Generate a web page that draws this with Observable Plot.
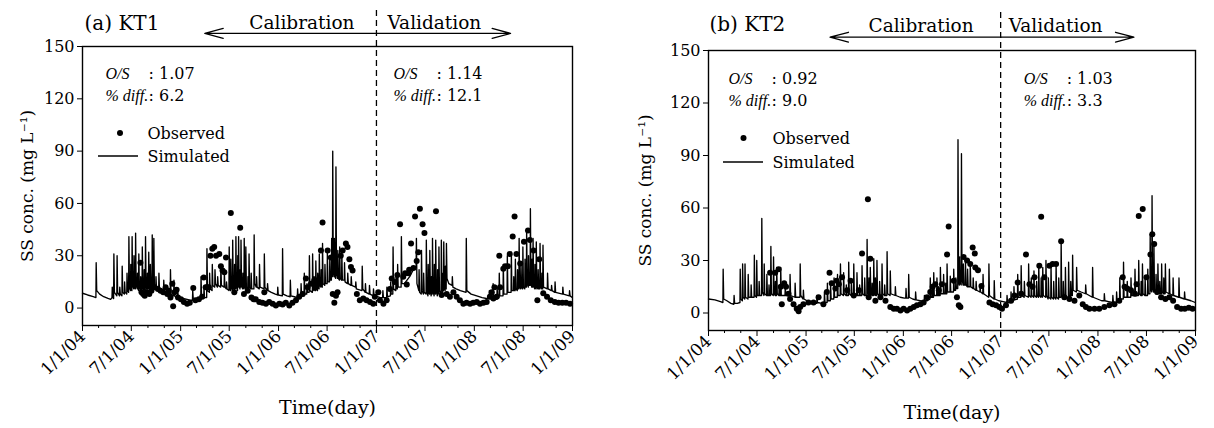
<!DOCTYPE html>
<html><head><meta charset="utf-8">
<script src="https://cdn.jsdelivr.net/npm/d3@7"></script>
<script src="https://cdn.jsdelivr.net/npm/@observablehq/plot@0.6"></script>
<style>
body{margin:0;background:#fff}
#wrap{position:relative;width:1214px;height:428px;overflow:hidden;background:#fff}
#wrap > svg{position:absolute;top:0}
</style>
</head><body><div id="wrap"></div>
<script>
// ---------- data ----------
const yTicks = [0, 30, 60, 90, 120, 150];
const xMajorDates = ["2004-01-01","2004-07-01","2005-01-01","2005-07-01","2006-01-01","2006-07-01","2007-01-01","2007-07-01","2008-01-01","2008-07-01","2009-01-01"];
const xMajorLabels = ["1/1/04","7/1/04","1/1/05","7/1/05","1/1/06","7/1/06","1/1/07","7/1/07","1/1/08","7/1/08","1/1/09"];
const xMinorDates = ["2004-03-01","2004-05-01","2004-09-01","2004-11-01","2005-03-01","2005-05-01","2005-09-01","2005-11-01","2006-03-01","2006-05-01","2006-09-01","2006-11-01","2007-03-01","2007-05-01","2007-09-01","2007-11-01","2008-03-01","2008-05-01","2008-09-01","2008-11-01"];
const splitDate = "2007-01-01";
const arrowSpan = ["2005-04-01", "2008-05-15"];
const periodLabels = ["Calibration", "Validation"];
const panelTitles = ["(a) KT1", "(b) KT2"];
const statLabels = ["O/S", "% diff."];
const statsKT1 = [["1.07", "6.2"], ["1.14", "12.1"]];   // [calibration, validation]
const statsKT2 = [["0.92", "9.0"], ["1.03", "3.3"]];
const seriesNames = ["Observed", "Simulated"];

const obsKT1 = [
["2004-08-04",26],["2004-08-08",9],["2004-08-14",8],["2004-08-20",7],["2004-08-28",9],["2004-09-06",8],["2004-09-14",10],["2004-09-26",12],["2004-10-08",11],["2004-10-18",10],["2004-10-28",9],["2004-11-06",12],["2004-11-12",8],["2004-11-18",10],["2004-11-24",6],["2004-12-01",14],["2004-12-04",1],["2004-12-09",9],["2004-12-17",10.5],["2004-12-22",6],
["2005-01-02",5],["2005-01-13",3.5],["2005-01-25",2.5],["2005-02-04",3],["2005-02-17",11.5],["2005-02-25",4.5],["2005-03-10",5],["2005-03-22",6.5],["2005-03-28",17.5],["2005-04-04",12],["2005-04-10",12],["2005-04-16",12],["2005-04-22",30],["2005-04-29",34],["2005-05-06",35],["2005-05-13",30],["2005-05-25",31],["2005-05-31",24],["2005-06-06",21.5],["2005-06-13",20.5],["2005-06-19",29],["2005-07-07",54.5],["2005-07-20",9],["2005-08-11",46],["2005-08-25",8],["2005-09-08",10],["2005-09-22",6],["2005-09-30",5],["2005-10-08",5],["2005-10-21",3.5],["2005-11-02",3],["2005-11-09",9],["2005-11-15",2.5],["2005-11-27",3.5],["2005-12-10",2.5],["2005-12-22",1.5],
["2006-01-04",2.5],["2006-01-16",2],["2006-01-28",3],["2006-02-10",1.5],["2006-02-22",3],["2006-03-07",4.5],["2006-03-19",6.5],["2006-04-01",8],["2006-04-13",17],["2006-04-19",12],["2006-05-02",14],["2006-05-14",16],["2006-05-27",16],["2006-06-08",33],["2006-06-14",49],["2006-07-03",33],["2006-07-15",29],["2006-07-22",8],["2006-07-28",3],["2006-08-03",7],["2006-08-09",9],["2006-08-21",30],["2006-08-28",33],["2006-09-09",37],["2006-09-15",35],["2006-09-22",28],["2006-09-28",23.5],["2006-10-04",21.5],["2006-10-20",8],["2006-10-31",4.5],["2006-11-13",5.5],["2006-11-25",4.5],["2006-12-08",3.5],["2006-12-20",2.5],["2006-12-26",6.5],
["2007-01-08",9],["2007-01-14",4.5],["2007-01-27",2.5],["2007-02-08",4.5],["2007-02-20",11],["2007-02-27",17],["2007-03-10",15],["2007-03-20",19],["2007-03-30",48],["2007-04-11",18],["2007-04-18",20],["2007-04-24",13.5],["2007-04-30",20],["2007-05-03",22],["2007-05-10",37],["2007-05-19",23],["2007-05-25",52.5],["2007-05-31",27],["2007-06-06",32],["2007-06-12",57],["2007-06-22",48],["2007-06-29",43],["2007-08-11",55.5],["2007-09-01",7.5],["2007-09-20",8],["2007-10-02",6.5],["2007-10-15",9],["2007-10-27",6.5],["2007-11-08",4.5],["2007-11-21",2.5],["2007-12-03",3],["2007-12-16",2.5],["2007-12-28",3],
["2008-01-10",3.5],["2008-01-22",2.5],["2008-02-04",3],["2008-02-16",3.5],["2008-02-28",6.5],["2008-03-06",9],["2008-03-12",5.5],["2008-03-16",12],["2008-03-24",6.5],["2008-04-06",12],["2008-04-03",30],["2008-04-18",22.5],["2008-04-25",24],["2008-05-05",24],["2008-05-12",31],["2008-05-23",41],["2008-05-30",52.5],["2008-06-06",31],["2008-06-20",25.5],["2008-07-04",38],["2008-07-19",44.5],["2008-07-26",39],["2008-08-09",33],["2008-08-23",4.5],["2008-08-30",28],["2008-09-14",8.5],["2008-09-28",6.5],["2008-10-12",4.5],["2008-10-27",3.5],["2008-11-10",3],["2008-11-24",3],["2008-12-08",3],["2008-12-23",2.5]
];

const simKT1 = [
["2004-01-01",8.5],["2004-01-20",7.5],["2004-02-10",6.5],["2004-02-20",6],["2004-02-21",26],["2004-02-23",10],["2004-03-05",8],["2004-03-20",6.5],["2004-04-05",5.5],["2004-04-15",5],["2004-04-20",6],["2004-04-21",12],["2004-04-23",6],
["2004-04-26",5.5],["2004-04-27",31],["2004-04-29",9],["2004-05-08",7],["2004-05-09",30],["2004-05-11",9],["2004-05-18",7],["2004-05-19",12],["2004-05-21",8],["2004-05-27",7],["2004-05-28",24],["2004-05-30",9],["2004-06-05",8],["2004-06-06",15],["2004-06-08",9],["2004-06-14",8],["2004-06-15",20],["2004-06-17",10],
["2004-06-21",9],["2004-06-22",41],["2004-06-24",12],["2004-06-28",10],["2004-06-29",25],["2004-07-01",11],["2004-07-03",10],["2004-07-04",41],["2004-07-06",13],["2004-07-10",11],["2004-07-11",30],["2004-07-13",12],["2004-07-16",11],["2004-07-17",43],["2004-07-19",13],["2004-07-23",11],["2004-07-24",20],["2004-07-26",12],
["2004-07-28",10],["2004-07-29",31],["2004-07-31",12],["2004-08-04",10],["2004-08-05",18],["2004-08-07",11],["2004-08-10",10],["2004-08-11",35],["2004-08-13",12],["2004-08-17",10],["2004-08-18",22],["2004-08-20",11],["2004-08-22",10],["2004-08-23",41],["2004-08-25",13],["2004-08-29",10],["2004-08-30",20],["2004-09-01",12],
["2004-09-03",11],["2004-09-04",32],["2004-09-06",12],["2004-09-09",11],["2004-09-10",25],["2004-09-12",12],["2004-09-16",11],["2004-09-17",42],["2004-09-19",14],["2004-09-22",11],["2004-09-23",40],["2004-09-25",13],["2004-09-30",11],["2004-10-01",18],["2004-10-03",11],
["2004-10-11",10],["2004-10-12",20],["2004-10-14",10],["2004-10-29",8],["2004-10-30",16],["2004-11-01",9],["2004-11-10",8],["2004-11-11",12],["2004-11-13",8],["2004-11-23",7],["2004-11-24",22],["2004-11-26",8],["2004-12-06",7],["2004-12-07",16],["2004-12-09",7],["2004-12-20",6],["2004-12-21",11],["2004-12-23",6],
["2005-01-10",5.5],["2005-01-25",5],["2005-02-05",4.5],["2005-02-14",4.5],["2005-02-15",10],["2005-02-17",5],["2005-03-01",4.5],["2005-03-17",5],["2005-03-18",18],["2005-03-20",6],["2005-03-28",5.5],["2005-03-29",12],["2005-03-31",6],
["2005-04-08",6],["2005-04-09",34],["2005-04-11",10],["2005-04-18",9],["2005-04-19",20],["2005-04-21",11],["2005-04-28",10],["2005-04-29",25],["2005-05-01",13],["2005-05-08",12],["2005-05-09",22],["2005-05-11",14],["2005-05-18",12],["2005-05-19",18],["2005-05-21",13],
["2005-05-30",12],["2005-05-31",24],["2005-06-02",13],["2005-06-12",12],["2005-06-13",20],["2005-06-15",12],["2005-06-20",11],["2005-06-21",15],["2005-06-23",11],["2005-06-30",10],["2005-07-01",35],["2005-07-03",12],["2005-07-06",10],["2005-07-07",28],["2005-07-09",12],
["2005-07-13",10],["2005-07-14",39],["2005-07-16",12],["2005-07-20",10],["2005-07-21",25],["2005-07-23",12],["2005-07-25",11],["2005-07-26",41],["2005-07-28",13],["2005-08-01",10],["2005-08-02",30],["2005-08-04",12],["2005-08-05",41],["2005-08-07",13],
["2005-08-10",11],["2005-08-11",22],["2005-08-13",12],["2005-08-14",39],["2005-08-16",13],["2005-08-20",11],["2005-08-21",20],["2005-08-23",12],["2005-08-25",11],["2005-08-26",40],["2005-08-28",13],["2005-08-31",11],["2005-09-01",35],["2005-09-03",12],
["2005-09-08",11],["2005-09-09",18],["2005-09-11",11],["2005-09-12",11],["2005-09-13",31],["2005-09-15",12],["2005-09-20",11],["2005-09-21",20],["2005-09-23",11],["2005-10-01",11],["2005-10-02",42],["2005-10-04",14],["2005-10-10",12],["2005-10-11",18],["2005-10-13",12],
["2005-10-21",11],["2005-10-22",25],["2005-10-24",12],["2005-11-08",11],["2005-11-09",31],["2005-11-11",12],["2005-11-20",10],["2005-11-21",14],["2005-11-23",10],["2005-12-05",9],["2005-12-20",8],["2005-12-28",7.5],["2005-12-29",12],["2005-12-31",7.5],
["2006-01-15",7],["2006-01-16",34],["2006-01-18",8],["2006-02-01",7],["2006-02-13",6.5],["2006-02-14",16],["2006-02-16",7],["2006-03-01",6.5],["2006-03-12",6],["2006-03-13",11],["2006-03-15",6],["2006-03-25",6],["2006-03-26",14],["2006-03-28",7],
["2006-04-06",7],["2006-04-07",20],["2006-04-09",8],["2006-04-16",8],["2006-04-17",14],["2006-04-19",9],["2006-04-25",9],["2006-04-26",30],["2006-04-28",10],["2006-05-07",9],["2006-05-08",31],["2006-05-10",11],["2006-05-13",10],["2006-05-14",18],["2006-05-16",11],
["2006-05-19",10],["2006-05-20",27],["2006-05-22",11],["2006-05-26",10],["2006-05-27",20],["2006-05-29",12],["2006-06-01",11],["2006-06-02",31],["2006-06-04",13],["2006-06-08",12],["2006-06-09",22],["2006-06-11",13],["2006-06-13",12],["2006-06-14",37],["2006-06-16",14],
["2006-06-22",13],["2006-06-23",25],["2006-06-25",14],["2006-07-01",14],["2006-07-02",32],["2006-07-04",15],["2006-07-10",15],["2006-07-11",28],["2006-07-13",16],["2006-07-17",16],["2006-07-18",40],["2006-07-20",18],["2006-07-21",18],["2006-07-22",90],["2006-07-24",22],
["2006-07-27",18],["2006-07-28",40],["2006-07-30",18],["2006-08-02",17],["2006-08-03",81],["2006-08-05",21],["2006-08-09",17],["2006-08-10",33],["2006-08-12",17],["2006-08-16",16],["2006-08-17",35],["2006-08-19",17],["2006-08-24",16],["2006-08-25",31],["2006-08-27",16],
["2006-09-03",16],["2006-09-04",26],["2006-09-06",15],["2006-09-15",14],["2006-09-16",20],["2006-09-18",14],["2006-09-28",13],["2006-09-29",18],["2006-10-01",13],["2006-10-15",12],["2006-10-16",15],["2006-10-18",11],["2006-11-08",10],["2006-11-09",24],["2006-11-11",11],
["2006-11-20",9],["2006-11-21",14],["2006-11-23",9],["2006-12-05",8],["2006-12-06",13],["2006-12-08",8],["2006-12-20",7],["2006-12-21",11],["2006-12-23",7],
["2007-01-05",6.5],["2007-01-15",6],["2007-01-24",6],["2007-01-25",10],["2007-01-27",6],["2007-02-08",6],["2007-02-09",12],["2007-02-11",6.5],["2007-02-22",7],["2007-02-23",15],["2007-02-25",8],
["2007-03-03",8],["2007-03-04",35],["2007-03-06",11],["2007-03-14",10],["2007-03-15",18],["2007-03-17",11],["2007-03-20",11],["2007-03-21",25],["2007-03-23",12],["2007-04-03",12],["2007-04-04",41],["2007-04-06",14],
["2007-04-15",14],["2007-04-25",16],["2007-05-05",18],["2007-05-15",21],["2007-05-25",23],["2007-05-29",24],["2007-05-30",40],["2007-06-01",14],
["2007-06-08",10],["2007-06-09",22],["2007-06-11",9],["2007-06-17",8],["2007-06-18",33],["2007-06-20",10],["2007-06-25",8],["2007-06-26",20],["2007-06-28",9],["2007-07-05",8],["2007-07-06",39],["2007-07-08",10],["2007-07-12",7],["2007-07-13",25],["2007-07-15",9],
["2007-07-18",8],["2007-07-19",33],["2007-07-21",10],["2007-07-24",7],["2007-07-25",18],["2007-07-27",9],["2007-07-28",8],["2007-07-29",40],["2007-07-31",10],["2007-08-04",7],["2007-08-05",25],["2007-08-07",9],["2007-08-09",8],["2007-08-10",39],["2007-08-12",10],
["2007-08-16",7],["2007-08-17",22],["2007-08-19",9],["2007-08-21",8],["2007-08-22",35],["2007-08-24",10],["2007-08-30",8],["2007-08-31",39],["2007-09-02",11],["2007-09-05",9],["2007-09-06",20],["2007-09-08",10],["2007-09-09",38],["2007-09-11",12],
["2007-09-14",10],["2007-09-15",24],["2007-09-17",11],["2007-09-18",11],["2007-09-19",37],["2007-09-21",17],["2007-09-28",14],["2007-10-10",13],["2007-10-11",18],["2007-10-13",12],["2007-10-25",11],["2007-11-10",10],
["2007-12-01",9],["2007-12-02",40],["2007-12-04",10],["2007-12-20",8],["2008-01-10",7],["2008-01-30",6],
["2008-02-15",5.5],["2008-02-25",5.5],["2008-02-26",10],["2008-02-28",5.5],["2008-03-10",5],["2008-03-11",14],["2008-03-13",5.5],["2008-03-25",5],["2008-03-26",12],["2008-03-28",5.5],
["2008-04-02",6],["2008-04-03",20],["2008-04-05",7],["2008-04-17",7],["2008-04-18",25],["2008-04-20",8],["2008-05-02",8],["2008-05-03",30],["2008-05-05",9],["2008-05-17",9],["2008-05-18",32],["2008-05-20",10],["2008-05-26",10],["2008-05-27",18],["2008-05-29",10],
["2008-06-01",10],["2008-06-02",28],["2008-06-04",11],["2008-06-09",10],["2008-06-10",22],["2008-06-12",11],["2008-06-15",11],["2008-06-16",40],["2008-06-18",12],["2008-06-22",11],["2008-06-23",25],["2008-06-25",12],["2008-06-29",11],["2008-06-30",35],["2008-07-02",12],
["2008-07-07",11],["2008-07-08",28],["2008-07-10",12],["2008-07-13",12],["2008-07-14",45],["2008-07-16",14],["2008-07-20",12],["2008-07-21",30],["2008-07-23",13],["2008-07-27",13],["2008-07-28",57],["2008-07-30",15],["2008-08-02",12],["2008-08-03",28],["2008-08-05",12],
["2008-08-06",12],["2008-08-07",40],["2008-08-09",13],["2008-08-13",11],["2008-08-14",25],["2008-08-16",12],["2008-08-18",11],["2008-08-19",38],["2008-08-21",12],["2008-08-25",11],["2008-08-26",22],["2008-08-28",11],["2008-09-01",11],["2008-09-02",37],["2008-09-04",12],
["2008-09-08",11],["2008-09-09",20],["2008-09-11",11],["2008-09-12",11],["2008-09-13",36],["2008-09-15",12],["2008-09-29",11],["2008-09-30",20],["2008-10-02",11],["2008-10-14",10],["2008-10-15",13],["2008-10-17",10],["2008-10-27",9],["2008-10-28",15],["2008-10-30",9],
["2008-11-25",8],["2008-11-26",12],["2008-11-28",8],["2008-12-20",7],["2008-12-21",10],["2008-12-23",7],["2008-12-31",6]
];

const obsKT2 = [
["2004-08-19",23],["2004-09-07",23],["2004-09-20",25],["2004-09-28",15],["2004-10-02",5],["2004-10-11",17],["2004-10-18",15],["2004-10-27",11],["2004-11-02",8],["2004-11-15",5],["2004-11-27",2.5],["2004-12-04",1],["2004-12-10",3.5],["2004-12-22",5],
["2005-01-10",6],["2005-01-29",6],["2005-02-17",9],["2005-03-07",5],["2005-03-20",12],["2005-03-30",23],["2005-04-07",17],["2005-04-21",14],["2005-04-26",18.5],["2005-05-04",16.5],["2005-05-16",20.5],["2005-06-04",13],["2005-06-17",18.5],["2005-06-29",10],["2005-07-18",13],["2005-07-30",34],["2005-08-21",65],["2005-08-24",9],["2005-08-30",31],["2005-09-18",7],["2005-10-07",9],["2005-10-26",7],["2005-11-13",3.5],["2005-11-26",2.5],["2005-12-08",2.5],["2005-12-21",1.5],
["2006-01-02",2.5],["2006-01-15",1.5],["2006-01-27",2.5],["2006-02-09",3.5],["2006-02-21",4.5],["2006-03-06",5],["2006-03-18",6],["2006-03-31",9],["2006-04-12",12],["2006-04-21",15],["2006-05-01",16.5],["2006-05-14",13],["2006-05-26",16.5],["2006-06-14",33.5],["2006-06-20",49.5],["2006-07-09",18.5],["2006-07-21",9],["2006-07-28",4.5],["2006-08-03",3.5],["2006-08-15",32],["2006-08-28",30],["2006-09-09",28],["2006-09-18",37.5],["2006-09-26",34],["2006-09-28",26],["2006-10-08",24.5],["2006-10-21",15.5],["2006-11-20",6],["2006-12-02",5],["2006-12-15",4.5],["2006-12-27",3.5],
["2007-01-06",2.5],["2007-01-21",4.5],["2007-02-09",7],["2007-02-22",10],["2007-03-06",17.5],["2007-03-19",11],["2007-04-06",33.5],["2007-04-19",16.5],["2007-05-01",15],["2007-05-08",20.5],["2007-05-26",27],["2007-06-02",55],["2007-06-14",20.5],["2007-07-03",27],["2007-07-15",28],["2007-07-28",28],["2007-08-16",41],["2007-08-28",9],["2007-09-16",8],["2007-10-05",7],["2007-10-23",10],["2007-11-05",5],["2007-11-17",3.5],["2007-11-30",2.5],["2007-12-19",2.5],
["2008-01-06",2.5],["2008-01-25",3.5],["2008-02-13",4.5],["2008-03-03",5],["2008-03-21",7],["2008-04-03",20.5],["2008-04-10",15],["2008-04-20",14],["2008-05-04",13],["2008-05-19",11],["2008-05-25",16.5],["2008-06-02",55.5],["2008-06-17",59.5],["2008-07-01",20.5],["2008-07-16",33.5],["2008-07-23",45],["2008-07-30",39.5],["2008-08-10",12],["2008-08-25",9],["2008-09-10",8],["2008-09-25",9],["2008-10-09",7],["2008-10-24",3.5],["2008-11-08",2.5],["2008-11-22",2.5],["2008-12-07",3],["2008-12-21",2.5]
];

const simKT2 = [
["2004-01-01",8],["2004-01-25",7.5],["2004-02-15",6.5],["2004-02-24",6],["2004-02-25",25],["2004-02-27",8],["2004-03-10",7],["2004-03-25",5.5],["2004-04-05",5],["2004-04-06",10],["2004-04-08",5.5],["2004-04-18",5.5],
["2004-04-28",6],["2004-04-29",25],["2004-05-01",8],["2004-05-07",7],["2004-05-08",28],["2004-05-10",9],["2004-05-16",8],["2004-05-17",28],["2004-05-19",9],["2004-05-28",8],["2004-05-29",22],["2004-05-31",9],["2004-06-08",9],["2004-06-09",16],["2004-06-11",9],
["2004-06-20",9],["2004-06-21",33],["2004-06-23",10],["2004-06-29",9],["2004-06-30",30],["2004-07-02",10],["2004-07-08",10],["2004-07-09",18],["2004-07-11",10],["2004-07-18",10],["2004-07-19",54],["2004-07-21",12],["2004-07-27",10],["2004-07-28",28],["2004-07-30",11],
["2004-08-06",10],["2004-08-07",22],["2004-08-09",10],["2004-08-14",10],["2004-08-15",16],["2004-08-17",10],["2004-08-21",10],["2004-08-22",38],["2004-08-24",11],["2004-08-31",10],["2004-09-01",32],["2004-09-03",11],["2004-09-07",10],["2004-09-08",18],["2004-09-10",10],
["2004-09-12",10],["2004-09-13",26],["2004-09-15",11],["2004-09-21",10],["2004-09-22",15],["2004-09-24",10],["2004-09-27",10],["2004-09-28",26],["2004-09-30",10],["2004-10-14",10],["2004-10-15",15],["2004-10-17",10],["2004-11-01",10],["2004-11-02",22],["2004-11-04",10],
["2004-11-20",9],["2004-11-21",17],["2004-11-23",9],["2004-12-09",9],["2004-12-10",28],["2004-12-12",10],["2004-12-21",8],["2004-12-22",13],["2004-12-24",8],
["2005-01-10",6.5],["2005-01-25",6],["2005-02-10",5.5],["2005-02-11",10],["2005-02-13",6],["2005-03-01",5.5],["2005-03-10",5.5],["2005-03-11",12],["2005-03-13",6],["2005-03-21",6],["2005-03-22",17],["2005-03-24",7],["2005-04-02",7],["2005-04-03",17],["2005-04-05",8],
["2005-04-15",8],["2005-04-16",20],["2005-04-18",9],["2005-04-28",9],["2005-04-29",22],["2005-05-01",10],["2005-05-09",10],["2005-05-10",28],["2005-05-12",11],["2005-05-21",10],["2005-05-22",23],["2005-05-24",11],["2005-05-31",10],["2005-06-01",16],["2005-06-03",10],
["2005-06-09",10],["2005-06-10",29],["2005-06-12",11],["2005-06-19",10],["2005-06-20",18],["2005-06-22",10],["2005-06-28",10],["2005-06-29",28],["2005-07-01",11],["2005-07-10",10],["2005-07-11",23],["2005-07-13",10],["2005-07-20",10],["2005-07-21",16],["2005-07-23",10],
["2005-07-29",10],["2005-07-30",27],["2005-08-01",11],["2005-08-08",10],["2005-08-09",20],["2005-08-11",10],["2005-08-17",10],["2005-08-18",42],["2005-08-20",12],["2005-08-24",10],["2005-08-25",20],["2005-08-27",10],["2005-08-29",10],["2005-08-30",26],["2005-09-01",11],
["2005-09-05",10],["2005-09-06",17],["2005-09-08",10],["2005-09-11",10],["2005-09-12",31],["2005-09-14",11],["2005-09-17",10],["2005-09-18",20],["2005-09-20",10],["2005-09-23",10],["2005-09-24",30],["2005-09-26",11],["2005-10-03",10],["2005-10-04",18],["2005-10-06",10],
["2005-10-12",10],["2005-10-13",28],["2005-10-15",11],["2005-10-22",10],["2005-10-23",16],["2005-10-25",10],["2005-10-31",10],["2005-11-01",35],["2005-11-03",11],["2005-11-12",10],["2005-11-13",24],["2005-11-15",11],["2005-12-01",10],["2005-12-02",15],["2005-12-04",10],
["2005-12-20",9],["2006-01-05",8.5],["2006-01-10",8.5],["2006-01-11",14],["2006-01-13",8.5],
["2006-01-20",8.5],["2006-01-21",22],["2006-01-23",9],["2006-02-05",8],["2006-02-15",7.5],["2006-02-16",12],["2006-02-18",7.5],["2006-03-05",7],["2006-03-20",6.5],["2006-03-21",10],["2006-03-23",7],["2006-04-01",7],
["2006-04-11",8],["2006-04-12",20],["2006-04-14",9],["2006-04-19",9],["2006-04-20",14],["2006-04-22",9],["2006-04-24",9],["2006-04-25",23],["2006-04-27",10],["2006-05-06",10],["2006-05-07",20],["2006-05-09",10],["2006-05-12",10],["2006-05-13",15],["2006-05-15",10],
["2006-05-19",10],["2006-05-20",26],["2006-05-22",11],["2006-05-31",11],["2006-06-01",22],["2006-06-03",11],["2006-06-08",11],["2006-06-09",17],["2006-06-11",11],["2006-06-13",11],["2006-06-14",28],["2006-06-16",12],["2006-06-25",12],["2006-06-26",21],["2006-06-28",12],
["2006-07-08",12],["2006-07-09",25],["2006-07-11",13],["2006-07-16",13],["2006-07-17",20],["2006-07-19",14],["2006-07-24",14],["2006-07-25",99],["2006-07-27",18],["2006-07-30",16],["2006-07-31",32],["2006-08-02",17],["2006-08-06",16],["2006-08-07",91],["2006-08-09",20],
["2006-08-13",16],["2006-08-14",28],["2006-08-16",16],["2006-08-21",16],["2006-08-22",30],["2006-08-24",16],["2006-08-29",15],["2006-08-30",25],["2006-09-01",15],["2006-09-08",15],["2006-09-09",28],["2006-09-11",15],["2006-09-19",14],["2006-09-20",20],["2006-09-22",14],
["2006-09-30",13],["2006-10-01",18],["2006-10-03",13],["2006-10-15",12],["2006-10-16",15],["2006-10-18",12],["2006-10-26",11],["2006-10-27",22],["2006-10-29",11],["2006-11-17",9],["2006-11-18",28],["2006-11-20",10],["2006-12-07",8],["2006-12-08",18.5],["2006-12-10",8],
["2006-12-25",7],
["2007-01-10",6.5],["2007-01-24",6],["2007-01-25",10],["2007-01-27",6],["2007-02-08",6],["2007-02-09",12],["2007-02-11",6.5],["2007-02-19",7],["2007-02-20",15],["2007-02-22",7.5],["2007-03-05",8],["2007-03-06",22],["2007-03-08",9],
["2007-03-18",9],["2007-03-19",27],["2007-03-21",10],["2007-03-30",9],["2007-03-31",18],["2007-04-02",10],["2007-04-15",9],["2007-04-16",28],["2007-04-18",10],["2007-04-25",9],["2007-04-26",20],["2007-04-28",10],["2007-05-05",9],["2007-05-06",24],["2007-05-08",10],
["2007-05-15",9],["2007-05-16",18],["2007-05-18",10],["2007-05-23",9],["2007-05-24",28],["2007-05-26",10],["2007-06-01",9],["2007-06-02",20],["2007-06-04",10],["2007-06-07",9],["2007-06-08",26],["2007-06-10",10],["2007-06-19",9],["2007-06-20",30],["2007-06-22",10],
["2007-06-28",8],["2007-06-29",20],["2007-07-01",9],["2007-07-08",8],["2007-07-09",27],["2007-07-11",9],["2007-07-18",8],["2007-07-19",18],["2007-07-21",9],["2007-07-27",8],["2007-07-28",28],["2007-07-30",9],["2007-08-06",8],["2007-08-07",20],["2007-08-09",9],
["2007-08-15",9],["2007-08-16",41],["2007-08-18",10],["2007-08-23",8],["2007-08-24",18],["2007-08-26",9],["2007-08-31",8],["2007-09-01",26],["2007-09-03",9],["2007-09-12",9],["2007-09-13",29],["2007-09-15",10],["2007-09-20",9],["2007-09-21",18],["2007-09-23",10],
["2007-09-27",10],["2007-09-28",33],["2007-09-30",13],["2007-10-12",12],["2007-10-13",26],["2007-10-15",13],["2007-10-30",12],["2007-11-15",11],["2007-11-16",16],["2007-11-18",11],["2007-12-11",9],["2007-12-12",26],["2007-12-14",9],
["2007-12-30",8],["2008-01-15",7],["2008-01-24",7],["2008-01-25",11],["2008-01-27",7],
["2008-02-10",6.5],["2008-02-25",6],["2008-02-26",10],["2008-02-28",6],["2008-03-10",6],["2008-03-11",12],["2008-03-13",6.5],["2008-03-22",7],["2008-03-23",20],["2008-03-25",8],
["2008-04-05",8],["2008-04-06",29],["2008-04-08",9],["2008-04-19",9],["2008-04-20",18],["2008-04-22",9],["2008-05-03",9],["2008-05-04",20],["2008-05-06",10],["2008-05-18",10],["2008-05-19",25],["2008-05-21",10],["2008-06-01",10],["2008-06-02",30],["2008-06-04",11],
["2008-06-10",10],["2008-06-11",18],["2008-06-13",10],["2008-06-15",10],["2008-06-16",28],["2008-06-18",11],["2008-06-25",10],["2008-06-26",20],["2008-06-28",10],["2008-07-05",10],["2008-07-06",25],["2008-07-08",11],["2008-07-14",11],["2008-07-15",45],["2008-07-17",13],
["2008-07-21",12],["2008-07-22",67],["2008-07-24",15],["2008-07-28",12],["2008-07-29",40],["2008-07-31",13],["2008-08-05",11],["2008-08-06",22],["2008-08-08",11],["2008-08-12",11],["2008-08-13",28],["2008-08-15",12],["2008-08-19",11],["2008-08-20",18],["2008-08-22",11],
["2008-08-26",11],["2008-08-27",28],["2008-08-29",12],["2008-09-03",11],["2008-09-04",20],["2008-09-06",11],["2008-09-09",11],["2008-09-10",28],["2008-09-12",12],["2008-09-24",11],["2008-09-25",25],["2008-09-27",11],["2008-10-08",10],["2008-10-09",20],["2008-10-11",10],
["2008-10-30",9],["2008-10-31",20],["2008-11-02",9],["2008-11-20",8],["2008-11-21",12],["2008-11-23",8],["2008-12-15",7],["2008-12-31",6]
];

// ---------- drawing ----------
const D = s => new Date(s);
const SERIF = "'DejaVu Serif', serif";
const ITAL = "'Liberation Serif', 'DejaVu Serif', serif";

function panel(cfg) {
  const sim = cfg.sim.map(([d, v]) => ({date: D(d), v})).sort((a, b) => a.date - b.date);
  const obs = cfg.obs.map(([d, v]) => ({date: D(d), v}));
  const split = [D(splitDate)];
  const L = cfg.legend;
  const legendSwatches = (index, scales, values, dim) => {
    const g = d3.create("svg:g");
    const x0 = dim.marginLeft, y0 = dim.marginTop;
    g.append("circle").attr("cx", x0 + L.dot[0]).attr("cy", y0 + L.dot[1]).attr("r", 3).attr("fill", "black");
    g.append("line").attr("x1", x0 + L.line[0]).attr("x2", x0 + L.line[1])
      .attr("y1", y0 + L.line[2]).attr("y2", y0 + L.line[2]).attr("stroke", "black").attr("stroke-width", 1.4);
    return g.node();
  };
  const statText = (anchorOpts, dx, dy, label, value) => [
    Plot.text([label], {...anchorOpts, text: () => label, dx, dy, textAnchor: "start", lineAnchor: "middle", fontStyle: "italic", fontFamily: ITAL, fontSize: 16}),
    Plot.text([value], {...anchorOpts, text: () => ": " + value, dx: dx + 43, dy, textAnchor: "start", lineAnchor: "middle", fontSize: 16})
  ];
  const leftAnchor = {frameAnchor: "top-left"};
  const splitAnchor = {x: () => split[0], frameAnchor: "top"};
  const plot = Plot.plot({
    width: cfg.width, height: 428,
    marginLeft: cfg.m[0], marginRight: cfg.m[1], marginTop: cfg.m[2], marginBottom: cfg.m[3],
    style: {fontFamily: SERIF, color: "black", background: "transparent", overflow: "visible"},
    x: {type: "utc", domain: [D(xMajorDates[0]), D(xMajorDates[xMajorDates.length - 1])]},
    y: {domain: [-10, 150]},
    marks: [
      Plot.axisY({ticks: yTicks, tickSize: 5, tickPadding: 3, label: null, fontSize: 16, tickFormat: d => String(d)}),
      Plot.axisX({ticks: xMajorDates.map(D), tickSize: 6, tickPadding: 2, tickRotate: -45, label: null, fontSize: 17,
        tickFormat: d => xMajorLabels[xMajorDates.map(D).findIndex(t => +t === +d)]}),
      Plot.axisX({ticks: xMinorDates.map(D), tickSize: 3, label: null, tickFormat: () => ""}),
      Plot.line(sim, {x: "date", y: "v", stroke: "black", strokeWidth: 1.35}),
      Plot.dot(obs, {x: "date", y: "v", r: 3, fill: "black", stroke: null}),
      Plot.frame({stroke: "black", strokeWidth: 1.4}),
      Plot.ruleX(split, {x: d => d, insetTop: cfg.dash[0], insetBottom: cfg.dash[1], stroke: "black", strokeWidth: 1.3, strokeDasharray: "6,4"}),
      Plot.arrow([arrowSpan[0], arrowSpan[1]], {x1: () => split[0], x2: d => D(d), y1: cfg.arrowY, y2: cfg.arrowY,
        stroke: "black", strokeWidth: 1.3, headLength: 22, headAngle: 30}),
      Plot.text([cfg.title], {frameAnchor: "top-left", dx: cfg.titlePos[0], dy: cfg.titlePos[1], textAnchor: "start", lineAnchor: "bottom", fontSize: 20}),
      Plot.text([periodLabels[0]], {...splitAnchor, text: () => periodLabels[0], dx: cfg.per[0], dy: cfg.per[2], textAnchor: "end", lineAnchor: "bottom", fontSize: 18.5}),
      Plot.text([periodLabels[1]], {...splitAnchor, text: () => periodLabels[1], dx: cfg.per[1], dy: cfg.per[2], textAnchor: "start", lineAnchor: "bottom", fontSize: 18.5}),
      ...statText(leftAnchor, cfg.stat[0], cfg.stat[2], statLabels[0], cfg.stats[0][0]),
      ...statText(leftAnchor, cfg.stat[0], cfg.stat[3], statLabels[1], cfg.stats[0][1]),
      ...statText(splitAnchor, cfg.stat[1], cfg.stat[2], statLabels[0], cfg.stats[1][0]),
      ...statText(splitAnchor, cfg.stat[1], cfg.stat[3], statLabels[1], cfg.stats[1][1]),
      legendSwatches,
      Plot.text([seriesNames[0]], {frameAnchor: "top-left", dx: L.text[0], dy: L.dot[1], textAnchor: "start", lineAnchor: "middle", fontSize: 16}),
      Plot.text([seriesNames[1]], {frameAnchor: "top-left", dx: L.text[0], dy: L.line[2], textAnchor: "start", lineAnchor: "middle", fontSize: 16}),
      Plot.text(["SS conc. (mg L\u207B\u00B9)"], {frameAnchor: "left", dx: cfg.yLabelDx, rotate: -90, textAnchor: "middle", lineAnchor: "middle", fontSize: 17}),
      Plot.text(["Time(day)"], {frameAnchor: "bottom", dy: 82, textAnchor: "middle", lineAnchor: "middle", fontSize: 19})
    ]
  });
  plot.style.left = cfg.left + "px";
  return plot;
}

const wrap = document.getElementById("wrap");
wrap.append(panel({
  sim: simKT1, obs: obsKT1, title: panelTitles[0], stats: statsKT1,
  left: 0, width: 607, m: [82, 35, 46, 103],
  dash: [-36, -8], arrowY: 157.5, titlePos: [2, -17], per: [-22, 11, -17.5],
  stat: [23, 17, 27, 49], legend: {dot: [38, 87], line: [16, 56, 110], text: [65]}, yLabelDx: -55
}));
wrap.append(panel({
  sim: simKT2, obs: obsKT2, title: panelTitles[1], stats: statsKT2,
  left: 607, width: 607, m: [101, 19, 50, 98],
  dash: [-38, -7], arrowY: 157.6, titlePos: [1, -20], per: [-27, 8, -19],
  stat: [20, 23, 28.5, 50], legend: {dot: [35.5, 88], line: [15, 55, 112], text: [64]}, yLabelDx: -63
}));
</script>
</body></html>
